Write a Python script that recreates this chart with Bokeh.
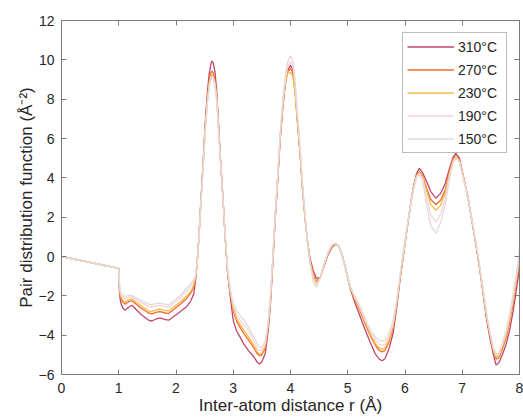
from bokeh.plotting import figure
from bokeh.models import (Range1d, LinearAxis, Legend, LegendItem, FixedTicker,
                          CustomLabelingPolicy)
from bokeh.embed import file_html
from bokeh.resources import INLINE

# ---------------- data ----------------
r = [
    0.00, 1.00, 1.01, 1.03, 1.07, 1.11, 1.17, 1.23, 1.30, 1.38,
    1.46, 1.53, 1.58, 1.65, 1.72, 1.80, 1.87, 1.94, 2.01, 2.10,
    2.19, 2.26, 2.31, 2.34, 2.37, 2.40, 2.43, 2.47, 2.51, 2.55,
    2.58, 2.61, 2.63, 2.65, 2.68, 2.71, 2.74, 2.78, 2.82, 2.86,
    2.90, 2.95, 3.00, 3.06, 3.12, 3.18, 3.27, 3.36, 3.42, 3.46,
    3.50, 3.56, 3.61, 3.65, 3.69, 3.73, 3.78, 3.82, 3.87, 3.91,
    3.95, 4.00, 4.04, 4.08, 4.12, 4.17, 4.21, 4.26, 4.30, 4.34,
    4.40, 4.45, 4.52, 4.58, 4.65, 4.72, 4.78, 4.84, 4.90, 4.97,
    5.04, 5.12, 5.21, 5.30, 5.39, 5.48, 5.55, 5.60, 5.65, 5.72,
    5.79, 5.85, 5.91, 5.97, 6.03, 6.09, 6.14, 6.20, 6.25, 6.31,
    6.38, 6.45, 6.54, 6.62, 6.70, 6.78, 6.84, 6.89, 6.95, 7.01,
    7.10, 7.19, 7.25, 7.31, 7.36, 7.42, 7.48, 7.54, 7.59, 7.64,
    7.70, 7.77, 7.83, 7.89, 7.95, 8.00,
]

g310 = [
    0.00, -0.60, -1.70, -2.30, -2.62, -2.74, -2.58, -2.48, -2.68, -2.92,
    -3.10, -3.25, -3.28, -3.18, -3.12, -3.20, -3.24, -3.10, -2.95, -2.75,
    -2.54, -2.25, -1.90, -1.25, -0.30, 1.00, 2.60, 4.60, 6.80, 8.40,
    9.30, 9.80, 9.94, 9.85, 9.40, 8.45, 6.90, 4.80, 3.00, 0.90,
    -0.80, -2.10, -3.26, -3.80, -4.10, -4.43, -4.80, -5.10, -5.38, -5.47,
    -5.35, -4.93, -3.80, -2.42, -0.40, 1.77, 4.00, 5.95, 7.70, 8.80,
    9.45, 9.72, 9.50, 8.47, 6.90, 5.12, 3.40, 1.77, 0.70, -0.08,
    -0.75, -1.10, -1.08, -0.55, 0.05, 0.45, 0.62, 0.55, 0.10, -0.70,
    -1.60, -2.30, -3.00, -3.70, -4.35, -4.95, -5.22, -5.30, -5.20, -4.70,
    -3.93, -2.70, -1.25, 0.00, 1.27, 2.50, 3.44, 4.20, 4.48, 4.25,
    3.80, 3.30, 2.97, 3.20, 3.69, 4.50, 5.05, 5.25, 5.00, 4.20,
    3.00, 1.43, 0.40, -0.74, -1.80, -3.09, -4.10, -4.93, -5.52, -5.40,
    -5.00, -4.43, -3.70, -2.75, -1.60, -0.58,
]

g270 = [
    0.00, -0.60, -1.50, -2.08, -2.32, -2.42, -2.30, -2.25, -2.42, -2.60,
    -2.76, -2.88, -2.92, -2.84, -2.80, -2.86, -2.90, -2.74, -2.58, -2.36,
    -2.12, -1.85, -1.55, -1.12, -0.30, 0.95, 2.50, 4.45, 6.55, 8.10,
    8.95, 9.35, 9.42, 9.35, 9.00, 8.20, 6.75, 4.75, 3.00, 0.95,
    -0.70, -1.90, -2.75, -3.30, -3.60, -3.90, -4.26, -4.65, -4.95, -5.05,
    -5.00, -4.65, -3.55, -2.20, -0.25, 1.85, 4.10, 6.05, 7.80, 8.85,
    9.40, 9.55, 9.35, 8.45, 6.95, 5.20, 3.50, 1.80, 0.65, -0.20,
    -0.95, -1.25, -1.08, -0.50, 0.10, 0.50, 0.65, 0.55, 0.08, -0.70,
    -1.55, -2.15, -2.75, -3.40, -4.00, -4.50, -4.78, -4.85, -4.78, -4.35,
    -3.65, -2.50, -1.15, 0.08, 1.32, 2.50, 3.40, 4.12, 4.32, 4.10,
    3.45, 2.90, 2.64, 2.85, 3.35, 4.35, 4.95, 5.12, 4.90, 4.15,
    2.98, 1.48, 0.45, -0.68, -1.70, -2.95, -3.95, -4.78, -5.22, -5.15,
    -4.72, -4.10, -3.30, -2.35, -1.20, -0.24,
]

g230 = [
    0.00, -0.60, -1.45, -2.00, -2.22, -2.32, -2.20, -2.16, -2.32, -2.48,
    -2.64, -2.76, -2.80, -2.72, -2.68, -2.74, -2.78, -2.62, -2.46, -2.24,
    -2.00, -1.75, -1.45, -1.08, -0.30, 0.95, 2.48, 4.40, 6.48, 8.00,
    8.82, 9.18, 9.24, 9.18, 8.85, 8.10, 6.70, 4.75, 3.00, 0.95,
    -0.68, -1.85, -2.65, -3.15, -3.45, -3.72, -4.10, -4.52, -4.85, -4.97,
    -4.92, -4.55, -3.48, -2.15, -0.20, 1.90, 4.15, 6.10, 7.85, 8.82,
    9.30, 9.37, 9.15, 8.30, 6.85, 5.15, 3.48, 1.80, 0.65, -0.22,
    -1.00, -1.32, -1.08, -0.48, 0.12, 0.52, 0.66, 0.55, 0.07, -0.70,
    -1.55, -2.12, -2.70, -3.32, -3.92, -4.42, -4.65, -4.72, -4.66, -4.25,
    -3.58, -2.45, -1.12, 0.10, 1.34, 2.50, 3.38, 4.10, 4.28, 4.05,
    3.30, 2.65, 2.35, 2.60, 3.20, 4.28, 4.90, 5.08, 4.88, 4.15,
    2.97, 1.50, 0.48, -0.65, -1.67, -2.90, -3.90, -4.72, -5.12, -5.05,
    -4.62, -3.98, -3.18, -2.22, -1.08, -0.10,
]

g190 = [
    0.00, -0.60, -1.35, -1.88, -2.05, -2.15, -2.06, -2.04, -2.18, -2.32,
    -2.46, -2.55, -2.58, -2.52, -2.48, -2.54, -2.58, -2.42, -2.26, -2.02,
    -1.75, -1.50, -1.25, -1.02, -0.30, 0.92, 2.45, 4.35, 6.40, 7.90,
    8.70, 9.08, 9.16, 9.10, 8.78, 8.02, 6.65, 4.72, 3.00, 0.98,
    -0.64, -1.75, -2.50, -2.95, -3.22, -3.45, -3.82, -4.30, -4.65, -4.78,
    -4.76, -4.42, -3.40, -2.08, -0.15, 1.95, 4.22, 6.20, 7.98, 9.02,
    9.62, 9.92, 9.72, 8.75, 7.20, 5.35, 3.60, 1.85, 0.62, -0.30,
    -1.15, -1.45, -1.10, -0.46, 0.16, 0.56, 0.67, 0.55, 0.06, -0.70,
    -1.52, -2.05, -2.58, -3.20, -3.80, -4.25, -4.45, -4.50, -4.45, -4.08,
    -3.45, -2.38, -1.06, 0.15, 1.37, 2.50, 3.34, 4.05, 4.22, 3.95,
    2.95, 2.10, 1.75, 2.15, 2.90, 4.15, 4.82, 5.04, 4.84, 4.12,
    2.96, 1.52, 0.52, -0.62, -1.63, -2.85, -3.85, -4.65, -5.03, -4.97,
    -4.50, -3.84, -3.04, -2.06, -0.94, 0.12,
]

g150 = [
    0.00, -0.60, -1.30, -1.79, -1.95, -2.04, -1.98, -1.98, -2.10, -2.22,
    -2.35, -2.42, -2.45, -2.40, -2.37, -2.42, -2.45, -2.30, -2.15, -1.90,
    -1.60, -1.35, -1.15, -1.00, -0.30, 0.90, 2.40, 4.30, 6.30, 7.80,
    8.60, 9.00, 9.10, 9.05, 8.70, 7.95, 6.60, 4.70, 3.00, 1.00,
    -0.60, -1.70, -2.37, -2.75, -3.00, -3.20, -3.60, -4.10, -4.45, -4.60,
    -4.62, -4.30, -3.30, -2.00, -0.10, 2.00, 4.30, 6.30, 8.10, 9.20,
    9.90, 10.20, 10.00, 9.00, 7.40, 5.50, 3.70, 1.90, 0.60, -0.40,
    -1.30, -1.58, -1.10, -0.45, 0.20, 0.60, 0.68, 0.55, 0.05, -0.70,
    -1.50, -2.00, -2.50, -3.10, -3.70, -4.10, -4.25, -4.30, -4.26, -3.90,
    -3.30, -2.30, -1.00, 0.20, 1.40, 2.50, 3.30, 4.00, 4.18, 3.80,
    2.60, 1.60, 1.18, 1.70, 2.60, 4.00, 4.75, 5.00, 4.80, 4.10,
    2.95, 1.55, 0.55, -0.60, -1.60, -2.80, -3.80, -4.60, -4.97, -4.90,
    -4.40, -3.70, -2.90, -1.90, -0.80, 0.34,
]

labels = ["310°C", "270°C", "230°C", "190°C", "150°C"]
series = [g310, g270, g230, g190, g150]
colors = ["#c2456e", "#ef6c2e", "#f4bb45", "#f7d3df", "#e3dbd6"]

x_ticks = [0, 1, 2, 3, 4, 5, 6, 7, 8]
y_ticks = [-6, -4, -2, 0, 2, 4, 6, 8, 10, 12]

FONT = "Liberation Sans"
AXIS_COL = "#7a7a7a"
TEXT_COL = "#262626"

# ---------------- figure ----------------
p = figure(width=523, height=417,
           x_range=Range1d(0, 8), y_range=Range1d(-6, 12),
           output_backend="svg", toolbar_location=None,
           min_border_left=61, min_border_right=3,
           min_border_top=20, min_border_bottom=40)
p.xgrid.visible = False
p.ygrid.visible = False
p.background_fill_color = "white"
p.border_fill_color = "white"
p.outline_line_color = AXIS_COL

for ax, ticks in ((p.xaxis[0], x_ticks), (p.yaxis[0], y_ticks)):
    ax.ticker = FixedTicker(ticks=ticks)
    ax.axis_line_color = AXIS_COL
    ax.major_tick_line_color = AXIS_COL
    ax.major_tick_in = 5
    ax.major_tick_out = 0
    ax.minor_tick_line_color = None
    ax.major_label_text_font = FONT
    ax.major_label_text_font_size = "14px"
    ax.major_label_text_color = TEXT_COL
    ax.axis_label_text_font = FONT
    ax.axis_label_text_font_size = "17px"
    ax.axis_label_text_font_style = "normal"
    ax.axis_label_text_color = TEXT_COL

p.xaxis.axis_label = "Inter-atom distance r (Å)"
p.yaxis.axis_label = "Pair distribution function (Å⁻²)"
p.xaxis.major_label_standoff = 8
p.xaxis.axis_label_standoff = 0
p.yaxis.major_label_standoff = 7
p.yaxis.axis_label_standoff = 0

# mirrored axes (top and right): inward ticks only, no labels drawn
no_labels = CustomLabelingPolicy(code="return new Set()")
top = LinearAxis(ticker=FixedTicker(ticks=x_ticks))
right = LinearAxis(ticker=FixedTicker(ticks=y_ticks))
for ax in (top, right):
    ax.axis_line_color = AXIS_COL
    ax.major_tick_line_color = AXIS_COL
    ax.major_tick_in = 5
    ax.major_tick_out = 0
    ax.minor_tick_line_color = None
    ax.major_label_text_font_size = "1px"
    ax.major_label_standoff = 0
    ax.major_label_policy = no_labels
p.add_layout(top, "above")
p.add_layout(right, "right")

items = []
for lab, ys, col in zip(labels, series, colors):
    rend = p.line(r, ys, line_color=col, line_width=1.3)
    items.append(LegendItem(label=lab, renderers=[rend]))

legend = Legend(items=items, location="top_right",
                margin=12, padding=4, spacing=4,
                glyph_width=47, glyph_height=19, label_height=19,
                label_width=44, label_standoff=4,
                label_text_font=FONT, label_text_font_size="14px",
                label_text_color=TEXT_COL,
                border_line_color=AXIS_COL, background_fill_color="white",
                background_fill_alpha=1.0)
p.add_layout(legend)

open("out.html", "w").write(file_html(p, INLINE))
